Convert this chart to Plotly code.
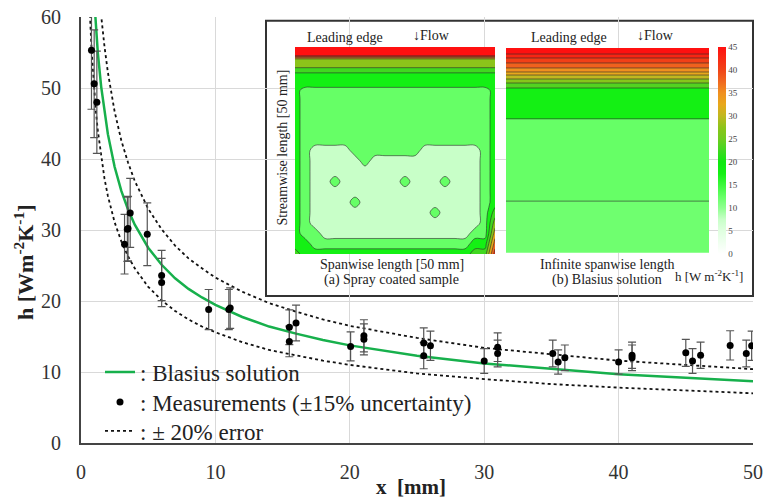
import plotly.graph_objects as go

# ---------------- main chart data ----------------
curve_x = [0.5, 0.6, 0.7, 0.8, 0.9, 1.0, 1.1, 1.25, 1.5, 1.75, 2, 2.5, 3, 3.5, 4, 5, 6, 7, 8, 9, 10,
           12, 14, 16, 18, 20, 25, 30, 35, 40, 45, 50]
blasius_h = [87.0, 79.4, 73.5, 68.8, 64.8, 61.5, 58.6, 55.0, 50.2, 46.5, 43.5, 38.9, 35.5, 32.9, 30.75,
             27.5, 25.1, 23.2, 21.7, 20.5, 19.45, 17.75, 16.4, 15.4, 14.5, 13.75, 12.3, 11.2, 10.4, 9.7, 9.2, 8.7]
upper_h = [104.4, 95.3, 88.2, 82.6, 77.8, 73.8, 70.3, 66.0, 60.2, 55.8, 52.2, 46.7, 42.6, 39.5, 36.9,
           33.0, 30.1, 27.8, 26.0, 24.6, 23.3, 21.3, 19.7, 18.5, 17.4, 16.5, 14.8, 13.4, 12.5, 11.6, 11.0, 10.4]
lower_h = [69.6, 63.5, 58.8, 55.0, 51.8, 49.2, 46.9, 44.0, 40.2, 37.2, 34.8, 31.1, 28.4, 26.3, 24.6,
           22.0, 20.1, 18.6, 17.4, 16.4, 15.6, 14.2, 13.1, 12.3, 11.6, 11.0, 9.8, 9.0, 8.3, 7.8, 7.4, 7.0]

meas_x = [0.78, 0.98, 1.18, 3.24, 3.45, 3.5, 3.66, 4.93, 6.0, 6.0, 9.5, 11.0, 11.1, 15.5, 15.5, 16.0,
          20.06, 21.05, 21.05, 25.5, 25.5, 26.0, 30.0, 31.0, 31.0, 35.1, 35.5, 36.0, 40.0, 41.0, 41.0,
          45.0, 45.5, 46.1, 48.3, 49.5, 49.9]
meas_h = [55.3, 50.6, 48.0, 28.0, 30.1, 30.2, 32.4, 29.4, 23.6, 22.6, 18.8, 18.8, 19.0, 16.3, 14.3, 16.9,
          13.6, 15.1, 14.6, 14.1, 12.3, 13.7, 11.55, 13.5, 12.6, 12.6, 11.4, 12.0, 11.4, 12.35, 12.0,
          12.7, 11.55, 12.35, 13.75, 12.6, 13.7]
meas_err = [round(v * 0.15, 2) for v in meas_h]  # +-15% uncertainty

x_ticks = [0, 10, 20, 30, 40, 50]
y_ticks = [0, 10, 20, 30, 40, 50, 60]

# ---------------- inset data ----------------
# (a) spray coated sample: level codes (value = 5*code + 2.5)
span_x = [0, 2.5, 5, 7.5, 10, 12.5, 15, 17.5, 20, 22.5, 25, 27.5, 30, 32.5, 35, 37.5, 40, 42.5, 45, 47.5, 50]
stream_y = [0, 2.0, 3.0, 4.5, 5.5, 7, 9, 10.5, 12.5, 15, 17.5, 20, 22.5, 25, 27.5, 30, 32.5, 35,
            37.5, 40, 42.5, 45, 47.5, 50]
sample_rows = [
    "999999999999999999999",
    "999999999999999999999",
    "555555555555555555555",
    "555555555555555555555",
    "444444444444444444444",
    "333333333333333333333",
    "333333333333333333333",
    "322222222222222222223",
    "322222222222222222223",
    "322222222222222222223",
    "322222222222222222223",
    "322222222222222222223",
    "322222222222222222223",
    "321111222222211111123",
    "321111121111111111123",
    "321111111111111111123",
    "321121111112111211123",
    "321111111111111111123",
    "321111211111111111123",
    "321111111111112111124",
    "321111111111111111125",
    "322111111111111111226",
    "332222222222222222337",
    "433333333333333333448",
]
sample_z = [[int(c) * 5 + 2.5 for c in row] for row in sample_rows]

# (b) Blasius solution bands (streamwise edges in mm, band values)
band_edges = [0, 1.47, 2.44, 3.66, 4.88, 5.86, 6.6, 7.57, 8.55, 9.77, 17.3, 37.4, 50]
band_values = [46, 43, 40.5, 38, 35, 32.5, 30, 27, 23.5, 17.5, 12.5, 12.0]
cbar_ticks = [0, 5, 10, 15, 20, 25, 30, 35, 40, 45]

H_MAX = 45.0
h_scale = [
    [0.0, "#ffffff"], [0.111, "#e0ffe0"], [0.167, "#c8ffc8"], [0.222, "#90ff90"],
    [0.278, "#66ff66"], [0.333, "#3cf83c"], [0.389, "#14f014"], [0.444, "#10e810"],
    [0.5, "#40d820"], [0.556, "#70cc20"], [0.611, "#8cc41a"], [0.667, "#c0b820"],
    [0.722, "#e8a81c"], [0.778, "#f09020"], [0.833, "#f06820"], [0.889, "#f04418"],
    [0.944, "#f82a14"], [1.0, "#ff1010"],
]
# contour 'fill' maps band centres over [start-size/2, end+size/2] = [2.5, 47.5];
# re-map the stops so that each band gets the colour of its centre value
contour_scale = [[0.0, "#f0fff0"]]
for p, c in h_scale:
    q = (p * H_MAX - 2.5) / H_MAX
    if q > 0:
        contour_scale.append([round(q, 4), c])
contour_scale.append([1.0, "#ff1010"])

FONT = "Liberation Serif"
W, H = 766, 500
ML, MR, MT, MB = 81, 13, 17, 57
PW, PH = W - ML - MR, H - MT - MB


def px(xp):
    return (xp - ML) / PW


def py(yp):
    return (H - MB - yp) / PH


fig = go.Figure()

# main curves
fig.add_trace(go.Scatter(x=curve_x, y=blasius_h, mode="lines", name=": Blasius solution",
                         line=dict(color="#17b04c", width=2.5), legend="legend"))
fig.add_trace(go.Scatter(x=curve_x, y=upper_h, mode="lines", name=": \u00b1 20% error",
                         line=dict(color="#111111", width=1.8, dash="dot"), legend="legend3"))
fig.add_trace(go.Scatter(x=curve_x, y=lower_h, mode="lines", showlegend=False,
                         line=dict(color="#111111", width=1.8, dash="dot")))
fig.add_trace(go.Scatter(x=meas_x, y=meas_h, mode="markers",
                         name=": Measurements (\u00b115% uncertainty)",
                         marker=dict(color="black", size=7),
                         error_y=dict(type="data", array=meas_err, visible=True,
                                      color="#555555", thickness=1.2, width=4),
                         legend="legend2"))

# inset (a)
fig.add_trace(go.Contour(x=span_x, y=stream_y, z=sample_z, xaxis="x2", yaxis="y2",
                         colorscale=contour_scale, autocontour=False,
                         contours=dict(start=5, end=45, size=5, coloring="fill"),
                         line=dict(color="#2a2a2a", width=0.6), showscale=False,
                         showlegend=False, hoverinfo="skip"))
# inset (b)
fig.add_trace(go.Heatmap(x=[0, 50], y=band_edges, z=[[v] for v in band_values],
                         xaxis="x3", yaxis="y3", colorscale=h_scale, zmin=0, zmax=H_MAX,
                         showlegend=False, hoverinfo="skip",
                         colorbar=dict(thickness=8, thicknessmode="pixels", len=207, lenmode="pixels",
                                       x=px(718), xanchor="left", y=py(150.5), yanchor="middle",
                                       tickvals=cbar_ticks, ticks="", outlinewidth=0,
                                       tickfont=dict(family=FONT, size=9, color="#444"),
                                       xpad=0, ypad=0)))
line_x, line_y = [], []
for e in band_edges[1:-1]:
    line_x += [0, 50, None]
    line_y += [e, e, None]
fig.add_trace(go.Scatter(x=line_x, y=line_y, xaxis="x3", yaxis="y3", mode="lines",
                         line=dict(color="#2a2a2a", width=0.6), showlegend=False, hoverinfo="skip"))

hidden = dict(showgrid=False, zeroline=False, showticklabels=False, ticks="", showline=False)


def leg(yc):
    return dict(x=px(100), y=py(yc), xanchor="left", yanchor="middle", bgcolor="rgba(0,0,0,0)",
                borderwidth=0, font=dict(family=FONT, size=23, color="#222"), itemwidth=30)


fig.update_layout(
    template="none",
    width=W, height=H,
    margin=dict(l=ML, r=MR, t=MT, b=MB),
    paper_bgcolor="white", plot_bgcolor="white",
    font=dict(family=FONT, color="#222"),
    xaxis=dict(range=[0, 50], tickvals=x_ticks, showgrid=True, gridcolor="#d9d9d9", gridwidth=1,
               zeroline=False, showline=True, linecolor="#444", linewidth=2, ticks="",
               tickfont=dict(family=FONT, size=20, color="#333"), ticklabelstandoff=10),
    yaxis=dict(range=[0, 60], tickvals=y_ticks, showgrid=True, gridcolor="#d9d9d9", gridwidth=1,
               zeroline=False, showline=True, linecolor="#444", linewidth=2, ticks="",
               tickfont=dict(family=FONT, size=20, color="#333"), ticklabelstandoff=14),
    xaxis2=dict(domain=[px(295), px(495)], range=[0, 50], anchor="y2", **hidden),
    yaxis2=dict(domain=[py(254), py(47)], range=[50, 0], anchor="x2", **hidden),
    xaxis3=dict(domain=[px(506), px(709)], range=[0, 50], anchor="y3", **hidden),
    yaxis3=dict(domain=[py(252.7), py(48)], range=[50, 0], anchor="x3", **hidden),
    legend=leg(372), legend2=leg(402), legend3=leg(431),
    showlegend=True,
)

# inset frame
fig.add_shape(type="rect", xref="paper", yref="paper", x0=px(266), x1=px(753), y0=py(296), y1=py(20.7),
              fillcolor="white", line=dict(color="#333", width=2), layer="between")

ann = []


def txt(x, y, s, size=13, angle=0, bold=False, anchor="center"):
    ann.append(dict(x=px(x), y=py(y), xref="paper", yref="paper", text=("<b>%s</b>" % s) if bold else s,
                    showarrow=False, textangle=angle, xanchor=anchor, yanchor="middle",
                    font=dict(family=FONT, size=size, color="#222")))


txt(345, 37, "Leading edge", size=14)
txt(411, 35, "\u2193Flow", size=14, anchor="left")
txt(569, 37, "Leading edge", size=14)
txt(635, 35, "\u2193Flow", size=14, anchor="left")
txt(281.5, 148, "Streamwise length [50 mm]", size=14, angle=-90)
txt(392, 264, "Spanwise length [50 mm]", size=14)
txt(391, 279.5, "(a) Spray coated sample", size=14)
txt(607, 264, "Infinite spanwise length", size=14)
txt(607, 279.5, "(b) Blasius solution", size=14)
txt(709, 276, "h [W m<sup>-2</sup>K<sup>-1</sup>]", size=13)
# axis titles
txt(411, 487, "x  [mm]", size=21, bold=True)
txt(24, 262, "h [Wm<sup>-2</sup>K<sup>-1</sup>]", size=22, angle=-90, bold=True)
fig.update_layout(annotations=ann)

fig.write_html("out.html")
